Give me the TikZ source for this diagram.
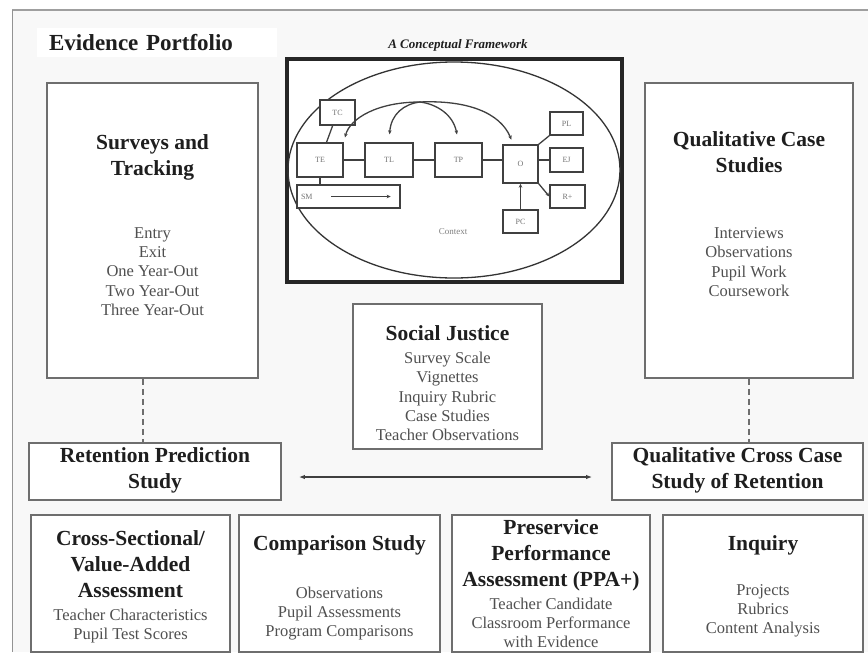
\documentclass[tikz,border=0pt]{standalone}
\usepackage{fontspec}
\setmainfont{Liberation Serif}
\usepackage{xcolor}
\usetikzlibrary{arrows.meta}

\definecolor{framegray}{HTML}{6E6E6E}
\definecolor{bggray}{HTML}{F8F8F8}
\definecolor{itemgray}{HTML}{505050}
\definecolor{headgray}{HTML}{1E1E1E}

\tikzset{
  panel/.style={draw=framegray, line width=1.8pt, fill=white, inner sep=0pt},
  head/.style={font=\bfseries\fontsize{21.5}{26}\selectfont, text=headgray, align=center, inner sep=0pt},
  items/.style={font=\fontsize{16.5}{19.3}\selectfont, text=itemgray, align=center, inner sep=0pt},
  mini/.style={draw=black!75, line width=1.4pt, fill=white, font=\fontsize{8}{8}\selectfont, text=black!55, inner sep=0pt},
  tip/.style={-{Stealth[length=4pt,width=3.5pt]}},
  link/.style={draw=black!75, line width=1.3pt},
}

\begin{document}
\begin{tikzpicture}[x=1pt,y=-1pt]
  \useasboundingbox (0,0) rectangle (868,659);
  % page background
  \fill[bggray] (12,10) rectangle (868,652);
  \draw[gray!75, line width=2.5pt] (12,10) -- (868,10);
  \draw[gray!85, line width=1pt] (12,10) -- (12,652);

  \node[fill=white, inner xsep=12pt, text width=216pt, minimum height=29pt, align=left,
        font=\bfseries\fontsize{23}{23}\selectfont, text=headgray] (portfolio) at (157,42.5) {Evidence Portfolio};

  % big side panels
  \node[panel, minimum width=211pt, minimum height=295pt] (surveys) at (152.5,230.5) {};
  \node[head] (surveysH) at (152.5,157.5) {Surveys and\\Tracking};
  \node[items] (surveysI) at (152.5,271.5) {Entry\\Exit\\One Year-Out\\Two Year-Out\\Three Year-Out};

  \node[panel, minimum width=208pt, minimum height=295pt] (qualcase) at (749,230.5) {};
  \node[head] (qualcaseH) at (749,152.5) {Qualitative Case\\Studies};
  \node[items] (qualcaseI) at (749,262) {Interviews\\Observations\\Pupil Work\\Coursework};

  % conceptual framework
  \node[font=\bfseries\itshape\fontsize{13}{13}\selectfont, text=headgray] (fwtitle) at (458,45) {A Conceptual Framework};
  \node[draw=black!85, line width=3.5pt, fill=white, minimum width=335pt, minimum height=223pt] (framework) at (454.5,170.5) {};
  \draw[black!80, line width=1.3pt] (454,170) ellipse [x radius=166, y radius=108];
  \node[font=\fontsize{9}{9}\selectfont, text=black!50] (context) at (453,232) {Context};

  \node[mini, minimum width=35pt, minimum height=25pt] (TC) at (337.5,112.5) {TC};
  \node[mini, minimum width=46pt, minimum height=34pt] (TE) at (320,160) {TE};
  \node[mini, minimum width=48pt, minimum height=34pt] (TL) at (389,160) {TL};
  \node[mini, minimum width=47pt, minimum height=34pt] (TP) at (458.5,160) {TP};
  \node[mini, minimum width=35pt, minimum height=38pt] (O) at (520.5,164) {O};
  \node[mini, minimum width=33pt, minimum height=23pt] (PL) at (566.5,123.5) {PL};
  \node[mini, minimum width=33pt, minimum height=24pt] (EJ) at (566.5,160) {EJ};
  \node[mini, minimum width=35pt, minimum height=23pt] (R) at (567.5,196.5) {R+};
  \node[mini, minimum width=35pt, minimum height=23pt] (PC) at (520.5,221.5) {PC};
  \node[mini, minimum width=103pt, minimum height=23pt, text width=95pt, align=left] (SM) at (348.5,196.5) {SM};

  \draw[link] (TE) -- (TL);
  \draw[link] (TL) -- (TP);
  \draw[link] (TP.east) -- (TP.east -| O.west);
  \draw[link] (TC) -- (TE);
  \draw[link] (TE.south) -- (TE.south |- SM.north);
  \draw[link] (O.north east) -- (PL.south west);
  \draw[link] (EJ.west -| O.east) -- (EJ.west);
  \draw[link, tip] (O.south east) -- (R.west);
  \draw[link, tip] (PC.north) -- (PC.north |- O.south);
  \draw[link, tip] ([xshift=35pt]SM.west) -- ([xshift=-10pt]SM.east);

  % feedback arcs
  \coordinate (hub) at (420,102);
  \draw[link, tip, shorten >=5pt] (hub) .. controls (378,102) and (350,118) .. (TE.north east);
  \draw[link, tip, shorten >=5pt] (hub) .. controls (466,100) and (500,112) .. (O.110);
  \draw[link, tip, shorten >=8pt] (hub) .. controls (404,104) and (391,114) .. (TL.north);
  \draw[link, tip, shorten >=8pt] (hub) .. controls (436,104) and (453,114) .. (TP.north);

  % social justice
  \node[panel, minimum width=189pt, minimum height=145pt] (social) at (447.5,376.5) {};
  \node[head] (socialH) at (447.5,333) {Social Justice};
  \node[items] (socialI) at (447.5,396.5) {Survey Scale\\Vignettes\\Inquiry Rubric\\Case Studies\\Teacher Observations};

  % retention studies
  \node[panel, minimum width=252pt, minimum height=57pt] (retention) at (155,471.5) {};
  \node[head] (retentionH) at (155,470.5) {Retention Prediction\\Study};
  \node[panel, minimum width=251pt, minimum height=57pt] (crosscase) at (737.5,471.5) {};
  \node[head] (crosscaseH) at (737.5,470.5) {Qualitative Cross Case\\Study of Retention};

  \draw[framegray, line width=1.3pt, dash pattern=on 6pt off 4pt] ([xshift=-9.5pt]surveys.south) -- ([xshift=-9.5pt]surveys.south |- retention.north);
  \draw[framegray, line width=1.3pt, dash pattern=on 6pt off 4pt] (qualcase.south) -- (qualcase.south |- crosscase.north);
  \draw[black!75, line width=1.4pt, {Latex[length=6pt,width=4.5pt]}-{Latex[length=6pt,width=4.5pt]}, shorten <=17pt, shorten >=19pt]
    ([yshift=-5.5pt]retention.east) -- ([yshift=-5.5pt]crosscase.west);

  % bottom row
  \node[panel, minimum width=199pt, minimum height=137pt] (valueadd) at (130.5,583.5) {};
  \node[head] (valueaddH) at (130.5,564.5) {Cross-Sectional/\\Value-Added\\Assessment};
  \node[items] (valueaddI) at (130.5,626) {Teacher Characteristics\\Pupil Test Scores};

  \node[panel, minimum width=201pt, minimum height=137pt] (comparison) at (339.5,583.5) {};
  \node[head] (comparisonH) at (339.5,545) {Comparison Study};
  \node[items] (comparisonI) at (339.5,613.5) {Observations\\Pupil Assessments\\Program Comparisons};

  \node[panel, minimum width=198pt, minimum height=137pt] (ppa) at (551,583.5) {};
  \node[head] (ppaH) at (551,555) {Preservice\\Performance\\Assessment (PPA+)};
  \node[items] (ppaI) at (551,623) {Teacher Candidate\\Classroom Performance\\with Evidence};

  \node[panel, minimum width=200pt, minimum height=137pt] (inquiry) at (763,583.5) {};
  \node[head] (inquiryH) at (763,545) {Inquiry};
  \node[items] (inquiryI) at (763,611) {Projects\\Rubrics\\Content Analysis};
\end{tikzpicture}
\end{document}
